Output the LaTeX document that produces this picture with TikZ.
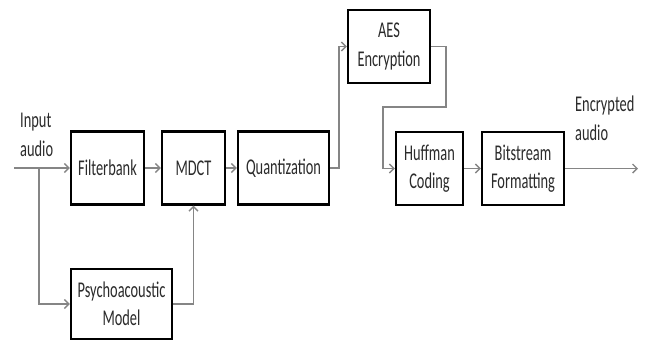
\documentclass[tikz,border=0pt]{standalone}
\usepackage{fontspec}
\setmainfont{Carlito}[FakeStretch=0.64]
\usetikzlibrary{arrows.meta,positioning}
\definecolor{flowgray}{HTML}{858585}
\definecolor{textdark}{HTML}{2B2B2B}

\begin{document}
\begin{tikzpicture}[x=1pt,y=-1pt,>={Straight Barb[length=4.5pt,width=9pt]},
  block/.style={draw=black,line width=2.2pt,fill=white,inner sep=0pt,
    minimum height=73pt,align=center,text=textdark,
    font=\fontsize{22.5}{28.5}\selectfont},
  flow/.style={->,draw=flowgray,line width=1.4pt},
  lbl/.style={inner sep=0pt,align=left,text=textdark,
    font=\fontsize{22.5}{29}\selectfont}]
  \useasboundingbox (0,0) rectangle (646,341);
  % processing blocks
  \node[block,minimum width=73pt] (filter) at (107.5,168) {Filterbank};
  \node[block,minimum width=63pt] (mdct) at (193.5,168) {MDCT};
  \node[block,minimum width=91pt] (quant) at (283.5,168) {Quantization};
  \node[block,minimum width=82pt] (aes) at (389,46.5) {AES\\Encryption};
  \node[block,minimum width=67pt] (huff) at (429.5,168.5) {Huffman\\Coding};
  \node[block,minimum width=82pt] (bits) at (523,168.5) {Bitstream\\Formatting};
  \node[block,minimum width=101pt,minimum height=70pt] (psy) at (121.5,304) {Psychoacoustic\\Model};
  % signal ends
  \coordinate (in) at (14,168);
  \coordinate (split) at (39,168);
  \coordinate (loop) at (383,107);
  \coordinate (out) at (638,168.5);
  \node[lbl,anchor=base west] (inlbl) at (20,156) {Input\\audio};
  \node[lbl,anchor=base west] (outlbl) at (575,140) {Encrypted\\audio};
  % connections
  \draw[flow] (in) -- (filter);
  \draw[flow] (split) |- (psy);
  \draw[flow] (filter) -- (mdct);
  \draw[flow] (psy) -| (mdct);
  \draw[flow] (mdct) -- (quant);
  \draw[flow] (quant.east) -- ++(9,0) |- (aes);
  \draw[flow] (aes.east) -- ++(15,0) |- (loop) |- (huff);
  \draw[flow] (huff) -- (bits);
  \draw[flow] (bits) -- (out);
\end{tikzpicture}
\end{document}
